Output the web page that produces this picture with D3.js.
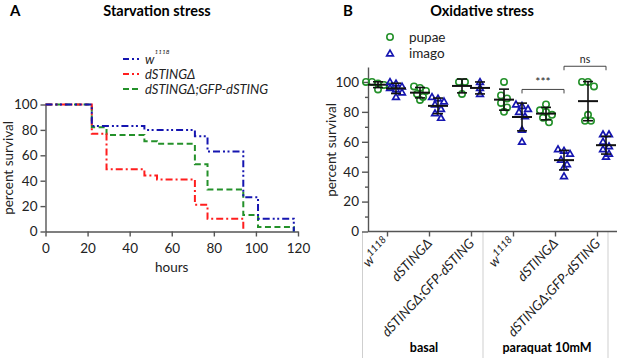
<!DOCTYPE html>
<html><head><meta charset="utf-8">
<script src="https://cdn.jsdelivr.net/npm/d3@7"></script>
<style>body{margin:0;background:#fff}svg{display:block;font-family:Lato,"Open Sans",sans-serif}</style>
</head><body>
<svg id="c" width="617" height="358"></svg>
<script>
// ---------- Panel A: starvation survival (Kaplan-Meier steps) ----------
const hoursTicks = [0, 20, 40, 60, 80, 100, 120];
const survTicks = [0, 20, 40, 60, 80, 100];
const wTimes = [0, 22, 47, 71, 77, 94, 101, 118];
const wSurv  = [100, 83, 80, 75, 63, 27, 10, 0];
const koTimes = [0, 22, 29, 47, 53, 71, 77, 94];
const koSurv  = [100, 77, 49, 44, 41, 21, 10, 0];
const resTimes = [0, 22, 29, 47, 53, 71, 77, 94, 101, 118];
const resSurv  = [100, 82, 76, 71, 69, 53, 33, 13, 3.5, 0];

// ---------- Panel B: oxidative stress ----------
const groups = ["w1118 basal", "dSTING basal", "rescue basal", "w1118 paraquat", "dSTING paraquat", "rescue paraquat"];
const groupLabels = ["w", "dSTINGΔ", "dSTINGΔ;GFP-dSTING", "w", "dSTINGΔ", "dSTINGΔ;GFP-dSTING"];
const conditions = ["basal", "paraquat 10mM"];
const pupae = [
  [100, 100, 99, 98, 97, 95],
  [97, 96, 94, 92, 90, 88],
  [100, 100, 92],
  [100, 91, 89, 86, 83, 80],
  [85, 81, 80, 78, 76, 73],
  [100, 100, 97, 78, 74, 74]
];
const imago = [
  [100, 99, 97, 96, 95, 93, 90],
  [90, 89, 87, 85, 82, 79, 76],
  [100, 96, 92],
  [85, 84, 82, 80, 77, 68, 60],
  [55, 54, 52, 48, 45, 43, 37],
  [65, 65, 60, 57, 55, 52, 50]
];
const yTicksB = [0, 20, 40, 60, 80, 100];
const yMinorB = [10, 30, 50, 70, 90];

const svg = d3.select("#c");
const GREEN = "#24912a", BLUE = "#1515b0", RED = "#ff1e1e", AX = "#555";
const FONT = "Lato";

// ---- Panel A ----
const xA = d3.scaleLinear().domain([0, 120]).range([45.5, 298]);
const yA = d3.scaleLinear().domain([0, 100]).range([231.5, 104.5]);
const gA = svg.append("g");
const axA = gA.append("g").attr("transform", "translate(0,231.5)")
  .call(d3.axisBottom(xA).tickValues(hoursTicks).tickSize(5).tickSizeOuter(0));
const ayA = gA.append("g").attr("transform", "translate(45.5,0)")
  .call(d3.axisLeft(yA).tickValues(survTicks).tickSize(5).tickSizeOuter(0));
[axA, ayA].forEach(a => {
  a.selectAll("path,line").attr("stroke", AX).attr("stroke-width", 1.4);
  a.selectAll("text").attr("font-size", 13.5).attr("fill", "#222").attr("font-family", FONT);
});
axA.selectAll("text").attr("dy", "1.0em");

const line = d3.line().x(d => xA(d[0])).y(d => yA(d[1])).curve(d3.curveStepAfter);
const seriesA = [
  {t: resTimes, s: resSurv, c: GREEN, dash: "6,3.5"},
  {t: koTimes, s: koSurv, c: RED, dash: "7,3,2,3"},
  {t: wTimes, s: wSurv, c: BLUE, dash: "7,3,2,2.5,2,3"}
];
seriesA.forEach(S => {
  gA.append("path").datum(S.t.map((t, i) => [t, S.s[i]]))
    .attr("d", line).attr("fill", "none").attr("stroke", S.c)
    .attr("stroke-width", 2).attr("stroke-dasharray", S.dash);
});

gA.append("text").attr("x", 10).attr("y", 16).attr("font-weight", "bold").attr("font-size", 15).text("A");
gA.append("text").attr("x", 157).attr("y", 16).attr("text-anchor", "middle").attr("font-weight", "bold").attr("font-size", 14.5).text("Starvation stress");
gA.append("text").attr("x", (45.5 + 298) / 2).attr("y", 272).attr("text-anchor", "middle").attr("font-size", 13.5).attr("fill", "#222").text("hours");
gA.append("text").attr("transform", "translate(13,168) rotate(-90)").attr("text-anchor", "middle").attr("font-size", 13.5).attr("fill", "#222").text("percent survival");

// legend A
const legA = [
  {c: BLUE, dash: "6,3,2,3", y: 59, label: "w", sup: "1118"},
  {c: RED, dash: "6,3,2,3", y: 74, label: "dSTINGΔ"},
  {c: GREEN, dash: "6,3", y: 89, label: "dSTINGΔ;GFP-dSTING"}
];
legA.forEach(L => {
  gA.append("line").attr("x1", 123).attr("x2", 139).attr("y1", L.y).attr("y2", L.y)
    .attr("stroke", L.c).attr("stroke-width", 2).attr("stroke-dasharray", L.dash);
  const t = gA.append("text").attr("x", 145).attr("y", L.y + 4.5).attr("font-size", 13).attr("font-style", "italic").attr("fill", "#222").text(L.label);
  if (L.sup) t.append("tspan").attr("dy", -10).attr("font-size", 6.5).text(L.sup);
});

// ---- Panel B ----
const xB = d3.scalePoint().domain(groups).range([387, 597]);
const sub = d3.scalePoint().domain(["pupae", "imago"]).range([-9, 9]);
const yB = d3.scaleLinear().domain([0, 110]).range([231.5, 67]);
const gB = svg.append("g");

// separators
[362.5, 483, 608].forEach(x => gB.append("line").attr("x1", x).attr("x2", x).attr("y1", 232).attr("y2", 358).attr("stroke", "#cfcfcf").attr("stroke-width", 1));

const ayB = gB.append("g").attr("transform", "translate(368,0)")
  .call(d3.axisLeft(yB).tickValues(yTicksB).tickSize(6).tickSizeOuter(0));
const ayBm = gB.append("g").attr("transform", "translate(368,0)")
  .call(d3.axisLeft(yB).tickValues(yMinorB).tickSize(3).tickFormat(""));
ayBm.select("path").remove();
const axB = gB.append("g").attr("transform", "translate(0,231.5)")
  .call(d3.axisBottom(xB).tickSize(5).tickSizeOuter(0).tickFormat(""));
axB.select("path").attr("d", "M368,0H617");
[ayB, ayBm, axB].forEach(a => {
  a.selectAll("path,line").attr("stroke", AX).attr("stroke-width", 1.4);
  a.selectAll("text").attr("font-size", 13.5).attr("fill", "#222").attr("font-family", FONT);
});

// rotated category labels
groups.forEach((g, i) => {
  const t = gB.append("text").attr("transform", `translate(${xB(g) + 4},${244}) rotate(-47)`)
    .attr("text-anchor", "end").attr("font-size", 13.5).attr("font-style", "italic").attr("fill", "#222")
    .text(groupLabels[i]);
  if (groupLabels[i] === "w") t.append("tspan").attr("dy", -6).attr("font-size", 10).text("1118");
});
// condition labels
gB.append("text").attr("x", 424).attr("y", 352).attr("text-anchor", "middle").attr("font-weight", "bold").attr("font-size", 12.5).text(conditions[0]);
gB.append("text").attr("x", 547).attr("y", 352).attr("text-anchor", "middle").attr("font-weight", "bold").attr("font-size", 12.5).text(conditions[1]);

gB.append("text").attr("x", 343).attr("y", 16).attr("font-weight", "bold").attr("font-size", 15).text("B");
gB.append("text").attr("x", 482).attr("y", 16).attr("text-anchor", "middle").attr("font-weight", "bold").attr("font-size", 14.5).text("Oxidative stress");
gB.append("text").attr("transform", "translate(336,150) rotate(-90)").attr("text-anchor", "middle").attr("font-size", 13.5).attr("fill", "#222").text("percent survival");

// spread points horizontally when values are close
function spread(vals) {
  const sorted = vals.map((v, i) => ({v, i})).sort((a, b) => b.v - a.v);
  const offs = new Array(vals.length).fill(0);
  let k = 0;
  while (k < sorted.length) {
    let j = k;
    while (j + 1 < sorted.length && sorted[k].v - sorted[j + 1].v < 3.2) j++;
    const n = j - k + 1;
    for (let m = 0; m < n; m++) offs[sorted[k + m].i] = (m - (n - 1) / 2) * 6;
    k = j + 1;
  }
  return offs;
}

function drawSeries(data, key, color, shape) {
  data.forEach((vals, gi) => {
    const cx = xB(groups[gi]) + sub(key);
    const offs = spread(vals);
    const mean = d3.mean(vals), sd = d3.deviation(vals);
    vals.forEach((v, i) => {
      if (shape === "circle") {
        gB.append("circle").attr("cx", cx + offs[i]).attr("cy", yB(v)).attr("r", 3.2)
          .attr("fill", "none").attr("stroke", color).attr("stroke-width", 1.6);
      } else {
        gB.append("path").attr("d", d3.symbol(d3.symbolTriangle, 19)())
          .attr("transform", `translate(${cx + offs[i]},${yB(v) + 0.5})`)
          .attr("fill", "none").attr("stroke", color).attr("stroke-width", 1.7);
      }
    });
    // mean and SD
    gB.append("line").attr("x1", cx - 10).attr("x2", cx + 10).attr("y1", yB(mean)).attr("y2", yB(mean)).attr("stroke", "#111").attr("stroke-width", 2);
    gB.append("line").attr("x1", cx).attr("x2", cx).attr("y1", yB(mean - sd)).attr("y2", yB(mean + sd)).attr("stroke", "#111").attr("stroke-width", 1.6);
    [mean - sd, mean + sd].forEach(e => gB.append("line").attr("x1", cx - 5).attr("x2", cx + 5).attr("y1", yB(e)).attr("y2", yB(e)).attr("stroke", "#111").attr("stroke-width", 1.6));
  });
}
drawSeries(pupae, "pupae", GREEN, "circle");
drawSeries(imago, "imago", BLUE, "triangle");

// significance brackets
function bracket(g1, g2, yv, label, fs) {
  const x1 = xB(g1) + sub("imago"), x2 = xB(g2) + sub("imago"), y = yB(yv);
  gB.append("path").attr("d", `M${x1},${y + 4}V${y}H${x2}V${y + 4}`).attr("fill", "none").attr("stroke", "#444").attr("stroke-width", 1);
  gB.append("text").attr("x", (x1 + x2) / 2).attr("y", y - 3).attr("text-anchor", "middle").attr("font-size", fs).attr("fill", "#222").text(label);
}
bracket(groups[3], groups[4], 95, "***", 12);
bracket(groups[4], groups[5], 110.5, "ns", 10.5);

// legend B
gB.append("circle").attr("cx", 390).attr("cy", 37).attr("r", 3.2).attr("fill", "none").attr("stroke", GREEN).attr("stroke-width", 1.6);
gB.append("path").attr("d", d3.symbol(d3.symbolTriangle, 19)()).attr("transform", "translate(390,54)").attr("fill", "none").attr("stroke", BLUE).attr("stroke-width", 1.7);
gB.append("text").attr("x", 409).attr("y", 41.5).attr("font-size", 13.5).attr("fill", "#222").text("pupae");
gB.append("text").attr("x", 409).attr("y", 58).attr("font-size", 13.5).attr("fill", "#222").text("imago");
</script>
</body></html>
